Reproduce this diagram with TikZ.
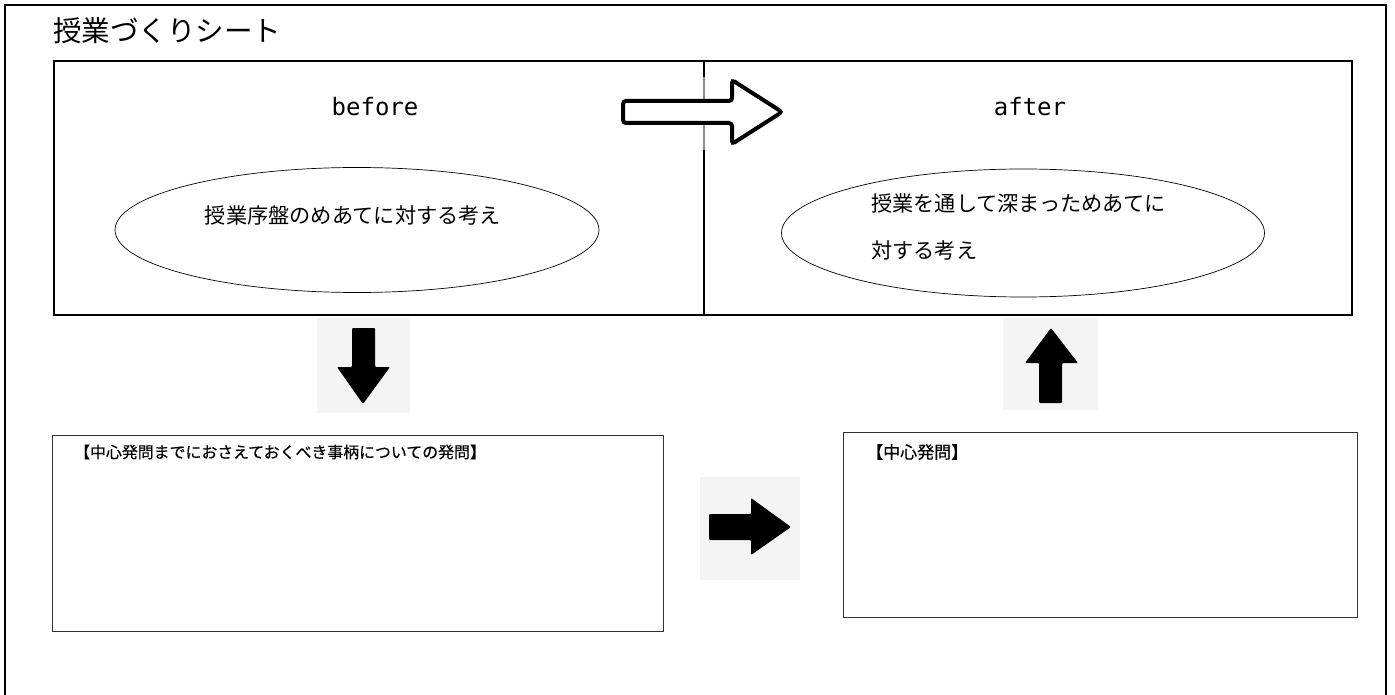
\documentclass[tikz,border=0pt]{standalone}
\usepackage{fontspec}
\newfontfamily\jp{Noto Sans CJK JP}
\newfontfamily\jpb[FakeBold=0.5]{Noto Sans CJK JP}
\newfontfamily\monofnt{DejaVu Sans Mono}
\usetikzlibrary{shapes.geometric}
\definecolor{bgicon}{HTML}{F4F4F4}
\definecolor{boxline}{HTML}{333333}
\tikzset{
  panel/.style={draw, line width=2pt, anchor=north west, inner sep=0pt},
  oval/.style={draw, ellipse, line width=0.7pt, inner sep=0pt},
  ovaltext/.style={font=\jp\fontsize{21.2}{25}\selectfont, inner sep=0pt},
  headword/.style={font=\monofnt\fontsize{24}{28}\selectfont, inner sep=0pt},
  qbox/.style={draw=boxline, line width=1.3pt, anchor=north west, inner sep=0pt},
  qtext/.style={font=\jpb\fontsize{15.9}{19}\selectfont, anchor=west, inner sep=0pt},
  solidarrow/.style={fill=black, rounded corners=1pt},
  iconbg/.style={fill=bgicon, draw=none},
}
\begin{document}
\begin{tikzpicture}[x=1pt,y=-1pt]
\useasboundingbox (0,0) rectangle (1395,695);
% outer frame (open at bottom)
\draw[line width=2pt] (5,695) -- (5,5) -- (1386,5) -- (1386,695);
% title
\node[anchor=west, inner sep=0pt, font=\jp\fontsize{28.5}{32}\selectfont] (title) at (53,31) {授業づくりシート};
% top panels
\node[panel, minimum width=650pt, minimum height=254pt] (beforebox) at (53,60) {};
\node[panel, minimum width=648pt, minimum height=254pt] (afterbox) at (703,60) {};
\node[headword] (before) at (375,107) {before};
\node[headword] (after) at (1030,107) {after};
% ellipses
\node[oval, minimum width=484pt, minimum height=125pt] (e1) at (357,230) {};
\node[ovaltext] (t1) at (353,215) {授業序盤のめあてに対する考え};
\node[oval, minimum width=483pt, minimum height=128pt] (e2) at (1023,233) {};
\node[ovaltext, anchor=west] (t2a) at (871,203) {授業を通して深まっためあてに};
\node[ovaltext, anchor=west] (t2b) at (871,250) {対する考え};
% hollow arrow between panels
\fill[white, fill opacity=0.55] (618,77) rectangle (790,150);
\draw[line width=4pt, rounded corners=3pt, fill=white]
  (623,101) -- (732,101) -- (732,80) -- (782,112) -- (732,144) -- (732,123) -- (623,123) -- cycle;
% down arrow
\fill[iconbg] (317,318) rectangle (410,413);
\fill[solidarrow] (352,328) -- (375,328) -- (375,367) -- (390,367) -- (363,404) -- (337,367) -- (352,367) -- cycle;
% up arrow
\fill[iconbg] (1003,318) rectangle (1098,410);
\fill[solidarrow] (1051,328) -- (1078,363) -- (1062,363) -- (1062,403) -- (1039,403) -- (1039,363) -- (1025,363) -- cycle;
% right arrow
\fill[iconbg] (700,477) rectangle (800,580);
\fill[solidarrow] (709,514) -- (751,514) -- (751,498) -- (791,527) -- (751,555) -- (751,540) -- (709,540) -- cycle;
% bottom boxes
\node[qbox, minimum width=611pt, minimum height=196pt] (leftq) at (52,435) {};
\node[qtext] (leftqt) at (74,452) {【中心発問までにおさえておくべき事柄についての発問】};
\node[qbox, minimum width=514pt, minimum height=185pt] (rightq) at (843,432) {};
\node[qtext, font=\jpb\fontsize{17}{20}\selectfont] (rightqt) at (866,452) {【中心発問】};
\end{tikzpicture}
\end{document}
